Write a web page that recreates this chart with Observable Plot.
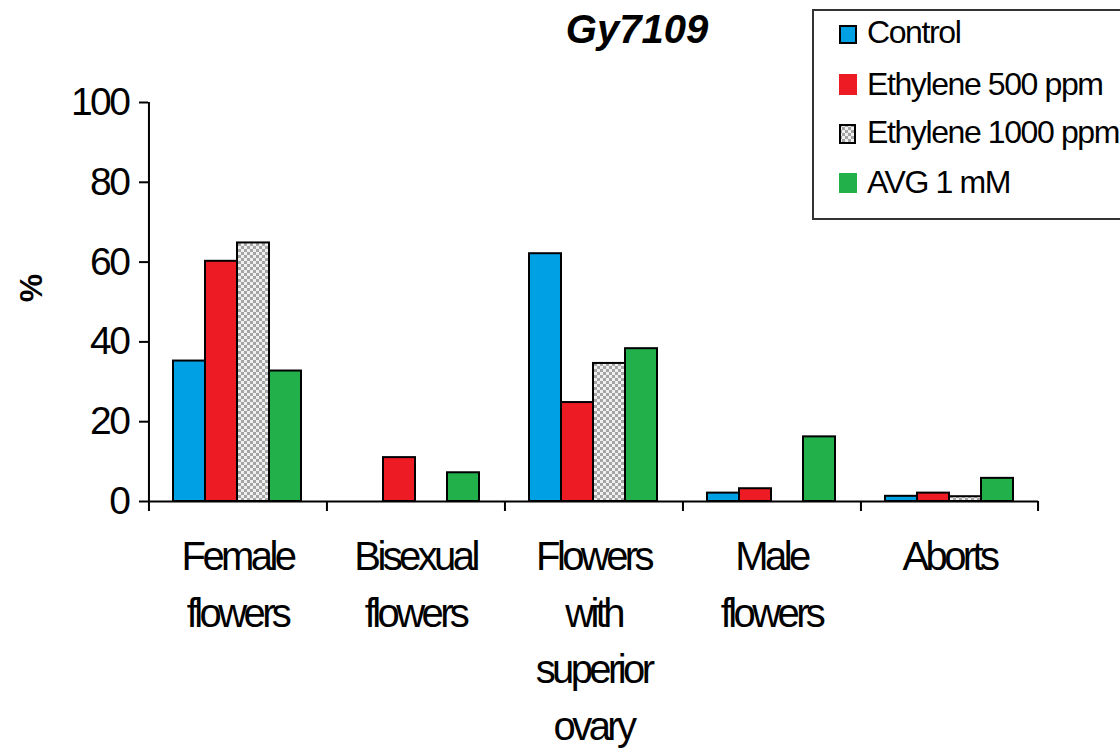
<!DOCTYPE html>
<html>
<head>
<meta charset="utf-8">
<script src="https://cdn.jsdelivr.net/npm/d3@7"></script>
<script src="https://cdn.jsdelivr.net/npm/@observablehq/plot@0.6"></script>
<style>
  body { margin: 0; background: #fff; }
  #wrap { position: relative; width: 1120px; height: 752px; overflow: hidden; font-family: "Liberation Sans", Arial, sans-serif; color: #000; background: #fff; }
  #wrap svg { position: absolute; left: 0; top: 0; }
  g[aria-label="y-axis tick label"] text { letter-spacing: -2.5px; }
  g[aria-label="fx-axis tick label"] text { letter-spacing: -3.6px; }
  .abs { position: absolute; white-space: nowrap; }
  #title { left: 537px; top: 9px; width: 200px; text-align: center; font-size: 40px; line-height: 40px; font-weight: bold; font-style: italic; }
  #ylabel { left: 1px; top: 268px; width: 60px; height: 40px; text-align: center; font-size: 32px; line-height: 40px; font-weight: bold; transform: rotate(-90deg); }
  #legend { left: 812px; top: 9px; width: 340px; height: 211px; box-sizing: border-box; border: 2px solid #333; background: #fff; }
  .ltext { font-size: 32px; line-height: 32px; letter-spacing: -1.4px; }
</style>
</head>
<body>
<div id="wrap"></div>
<script>
// ---- data ----
const categories = ["Female flowers", "Bisexual flowers", "Flowers with superior ovary", "Male flowers", "Aborts"];
const categoryLabels = ["Female\nflowers", "Bisexual\nflowers", "Flowers\nwith\nsuperior\novary", "Male\nflowers", "Aborts"];
const series = ["Control", "Ethylene 500 ppm", "Ethylene 1000 ppm", "AVG 1 mM"];
const control = [35.2, 0, 62.1, 2.1, 1.3];
const ethylene500 = [60.2, 11.0, 24.8, 3.2, 2.1];
const ethylene1000 = [64.8, 0, 34.6, 0, 1.2];
const avg1mM = [32.7, 7.2, 38.3, 16.2, 5.8];
const yTicks = [0, 20, 40, 60, 80, 100];
const seriesColors = ["#00A0E4", "#ED1C24", "url(#checker)", "#22B04B"];

const valuesBySeries = [control, ethylene500, ethylene1000, avg1mM];
const rows = [];
categories.forEach((c, i) => {
  series.forEach((s, j) => {
    rows.push({category: c, series: s, value: valuesBySeries[j][i]});
  });
});

// ---- layout ----
const W = 1120, H = 752, ML = 147, MR = 81, MT = 102, MB = 251;
const PAD_OUT = 0.75;
const step = (W - ML - MR) / categories.length / (series.length + 2 * PAD_OUT);
const edge = (0.5 + PAD_OUT) * step;

const plot = Plot.plot({
  width: W,
  height: H,
  marginLeft: ML,
  marginRight: MR,
  marginTop: MT,
  marginBottom: MB,
  style: {fontFamily: "'Liberation Sans', Arial, sans-serif", background: "white", color: "black", overflow: "visible"},
  fx: {domain: categories, padding: 0},
  x: {domain: series, paddingInner: 0, paddingOuter: PAD_OUT, axis: null},
  y: {domain: [0, 100]},
  color: {domain: series, range: seriesColors},
  marks: [
    Plot.barY(rows.filter(d => d.value > 0), {
      fx: "category", x: "series", y: "value", fill: "series",
      stroke: "black", strokeWidth: 2
    }),
    Plot.ruleY([0], {stroke: "black", strokeWidth: 2}),
    // y axis line + first boundary tick
    Plot.ruleX([categories[0]], {
      fx: d => d, x: () => series[0], y1: () => 100, y2: () => 0,
      dx: -edge, insetBottom: -10, stroke: "black", strokeWidth: 2
    }),
    // category boundary ticks
    Plot.ruleX(categories.slice(1), {
      fx: d => d, x: () => series[0], y1: () => 0, y2: () => 0,
      dx: -edge, insetBottom: -10, stroke: "black", strokeWidth: 2
    }),
    Plot.ruleX([categories[categories.length - 1]], {
      fx: d => d, x: () => series[series.length - 1], y1: () => 0, y2: () => 0,
      dx: edge, insetBottom: -10, stroke: "black", strokeWidth: 2
    }),
    Plot.axisY({
      ticks: yTicks, tickSize: 9, tickPadding: 11, fontSize: 39,
      strokeWidth: 2, stroke: "black", label: null
    }),
    Plot.axisFx({
      anchor: "bottom", tickSize: 0, tickPadding: 28, fontSize: 40, lineHeight: 1.42,
      tickFormat: d => categoryLabels[categories.indexOf(d)], label: null
    })
  ]
});

// checker pattern for Ethylene 1000 ppm
const defs = d3.select(plot).insert("defs", ":first-child");
const pat = defs.append("pattern").attr("id", "checker")
  .attr("width", 6).attr("height", 6).attr("patternUnits", "userSpaceOnUse");
pat.append("rect").attr("width", 6).attr("height", 6).attr("fill", "#f0f0f0");
pat.append("rect").attr("width", 3).attr("height", 3).attr("fill", "#a4a4a4");
pat.append("rect").attr("x", 3).attr("y", 3).attr("width", 3).attr("height", 3).attr("fill", "#a4a4a4");

const wrap = document.getElementById("wrap");
wrap.appendChild(plot);

// title
const title = document.createElement("div");
title.className = "abs"; title.id = "title"; title.textContent = "Gy7109";
wrap.appendChild(title);

// y label
const ylab = document.createElement("div");
ylab.className = "abs"; ylab.id = "ylabel"; ylab.textContent = "%";
wrap.appendChild(ylab);

// legend
const legend = document.createElement("div");
legend.className = "abs"; legend.id = "legend";
wrap.appendChild(legend);

const swatchBoxes = [
  {top: 25, h: 19, w: 18, border: true},
  {top: 74, h: 21, w: 18, border: false},
  {top: 124, h: 20, w: 17, border: true},
  {top: 173, h: 20, w: 18, border: false}
];
const textTops = [16, 68, 116, 166];
series.forEach((s, i) => {
  const b = swatchBoxes[i];
  const sw = document.createElementNS("http://www.w3.org/2000/svg", "svg");
  sw.setAttribute("width", b.w); sw.setAttribute("height", b.h);
  sw.style.position = "absolute"; sw.style.left = "839px"; sw.style.top = b.top + "px";
  const r = d3.select(sw);
  if (seriesColors[i].startsWith("url")) {
    const p = r.append("defs").append("pattern").attr("id", "checkerSw")
      .attr("width", 6).attr("height", 6).attr("patternUnits", "userSpaceOnUse");
    p.append("rect").attr("width", 6).attr("height", 6).attr("fill", "#f0f0f0");
    p.append("rect").attr("width", 3).attr("height", 3).attr("fill", "#a4a4a4");
    p.append("rect").attr("x", 3).attr("y", 3).attr("width", 3).attr("height", 3).attr("fill", "#a4a4a4");
  }
  r.append("rect").attr("x", b.border ? 1 : 0).attr("y", b.border ? 1 : 0)
    .attr("width", b.border ? b.w - 2 : b.w).attr("height", b.border ? b.h - 2 : b.h)
    .attr("fill", seriesColors[i].startsWith("url") ? "url(#checkerSw)" : seriesColors[i])
    .attr("stroke", b.border ? "black" : "none").attr("stroke-width", 2);
  wrap.appendChild(sw);
  const t = document.createElement("div");
  t.className = "abs ltext"; t.textContent = s;
  t.style.left = "867px"; t.style.top = textTops[i] + "px";
  wrap.appendChild(t);
});
</script>
</body>
</html>
